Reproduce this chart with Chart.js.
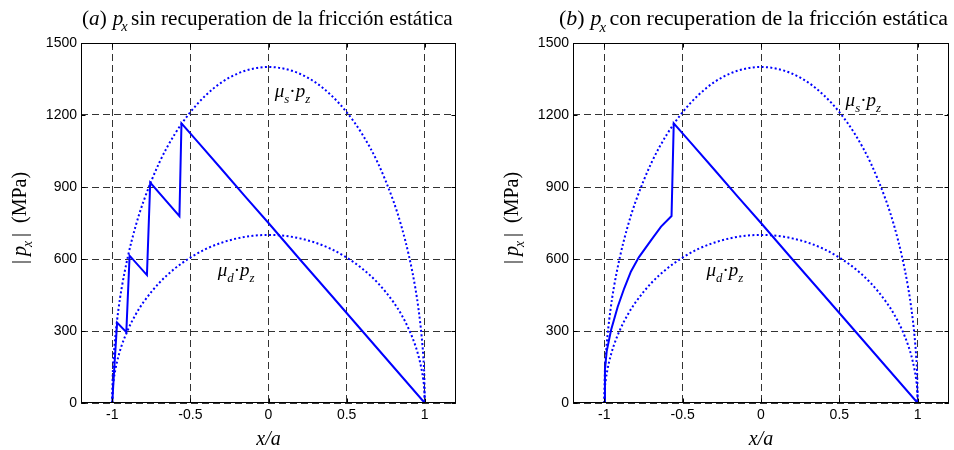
<!DOCTYPE html>
<html>
<head>
<meta charset="utf-8">
<script src="https://cdn.jsdelivr.net/npm/chart.js@4.4.0/dist/chart.umd.min.js"></script>
<style>
  html, body { margin: 0; padding: 0; background: #fff; }
  #wrap { position: relative; width: 954px; height: 450px; }
  .panel { position: absolute; top: 0; width: 477px; height: 450px; }
</style>
</head>
<body>
<div id="wrap">
  <div class="panel" style="left:0"><canvas id="chartA" width="477" height="450"></canvas></div>
  <div class="panel" style="left:477px"><canvas id="chartB" width="477" height="450"></canvas></div>
</div>
<script>
// limit curves (mu_s * p_z and mu_d * p_z)
const CURVE_X = [-1, -0.998, -0.99, -0.98, -0.96, -0.94, -0.9, -0.85, -0.8, -0.7, -0.6, -0.5, -0.4, -0.3, -0.2, -0.1,
  0, 0.1, 0.2, 0.3, 0.4, 0.5, 0.6, 0.7, 0.8, 0.85, 0.9, 0.94, 0.96, 0.98, 0.99, 0.998, 1];
const MU_S_PZ = [0, 88, 198, 279, 392, 478, 610, 738, 840, 1000, 1120, 1212, 1283, 1336, 1372, 1393,
  1400, 1393, 1372, 1336, 1283, 1212, 1120, 1000, 840, 738, 610, 478, 392, 279, 198, 88, 0];
const MU_D_PZ = [0, 44, 99, 139, 196, 239, 305, 369, 420, 500, 560, 606, 642, 668, 686, 697,
  700, 697, 686, 668, 642, 606, 560, 500, 420, 369, 305, 239, 196, 139, 99, 44, 0];

// |p_x| without static friction recovery (a)
const PX_A_X = [-1, -0.991, -0.969, -0.91, -0.889, -0.778, -0.757, -0.57, -0.557, -0.45, -0.3, -0.15, 0, 0.2, 0.4, 0.6, 0.8, 1];
const PX_A = [0, 103, 335, 295, 614, 533, 918, 779, 1165, 1086, 974, 861, 750, 599, 450, 300, 150, 0];

// |p_x| with static friction recovery (b)
const PX_B_X = [-1, -0.996, -0.985, -0.957, -0.915, -0.873, -0.83, -0.78, -0.7, -0.638, -0.571, -0.557, -0.45, -0.3, -0.15, 0, 0.2, 0.4, 0.6, 0.8, 1];
const PX_B = [0, 140, 215, 304, 400, 478, 548, 607, 680, 735, 779, 1165, 1086, 974, 861, 750, 599, 450, 300, 150, 0];

const X_TICKS = [-1, -0.5, 0, 0.5, 1];
const Y_TICKS = [0, 300, 600, 900, 1200, 1500];

const BLUE = "#0000ff";
const SERIF = '"Liberation Serif", "Times New Roman", serif';
const SANS = '"Liberation Sans", Arial, sans-serif';

function toPoints(xs, ys) {
  return xs.map((x, i) => ({ x, y: ys[i] }));
}

// draws a run of text pieces (italic / subscript), returns its width
function drawRich(ctx, parts, x, y, size, measureOnly) {
  let cx = x;
  parts.forEach((p) => {
    const fs = p.sub ? size * 0.68 : size;
    ctx.font = `${p.it ? "italic " : ""}${fs}px ${SERIF}`;
    if (!measureOnly) ctx.fillText(p.t, cx, y + (p.sub ? size * 0.3 : 0));
    cx += ctx.measureText(p.t).width + (p.k || 0);
  });
  return cx - x;
}

const MU_S_LABEL = [{ t: "\u03bc", it: true }, { t: "s", it: true, sub: true }, { t: "\u00b7" }, { t: "p", it: true }, { t: "z", it: true, sub: true }];
const MU_D_LABEL = [{ t: "\u03bc", it: true }, { t: "d", it: true, sub: true }, { t: "\u00b7" }, { t: "p", it: true }, { t: "z", it: true, sub: true }];
const Y_LABEL = [{ t: "|", k: 4 }, { t: "p", it: true, k: -1 }, { t: "x", it: true, sub: true, k: 4 }, { t: "|", k: 10 }, { t: "(MPa)" }];
const X_LABEL = [{ t: "x/a", it: true }];

const panelPlugin = {
  id: "panel",
  afterDatasetsDraw(chart, args, opts) {
    const ctx = chart.ctx;
    const xs = chart.scales.x;
    const ys = chart.scales.y;
    ctx.save();
    ctx.fillStyle = "#000";
    ctx.textBaseline = "alphabetic";
    opts.notes.forEach((n) => {
      drawRich(ctx, n.parts, xs.getPixelForValue(n.x), ys.getPixelForValue(n.y), 19);
    });
    ctx.restore();
  },
  afterDraw(chart, args, opts) {
    const ctx = chart.ctx;
    const a = chart.chartArea;
    const xs = chart.scales.x;
    const ys = chart.scales.y;
    ctx.save();
    ctx.strokeStyle = "#000";
    ctx.lineWidth = 1;
    const l = Math.round(a.left) + 0.5, r = Math.round(a.right) - 0.5;
    const t = Math.round(a.top) + 0.5, b = Math.round(a.bottom) - 0.5;
    ctx.beginPath();
    X_TICKS.forEach((v) => {
      const px = Math.round(xs.getPixelForValue(v)) + 0.5;
      ctx.moveTo(px, b); ctx.lineTo(px, b - 4);
      ctx.moveTo(px, t); ctx.lineTo(px, t + 4);
    });
    Y_TICKS.forEach((v) => {
      const py = Math.round(ys.getPixelForValue(v)) + 0.5;
      ctx.moveTo(l, py); ctx.lineTo(l + 4, py);
      ctx.moveTo(r, py); ctx.lineTo(r - 4, py);
    });
    ctx.stroke();
    ctx.strokeRect(l, t, r - l, b - t);

    ctx.fillStyle = "#000";
    ctx.textBaseline = "alphabetic";
    drawRich(ctx, opts.title, 82, 25, opts.titleSize);

    const cx = (a.left + a.right) / 2;
    const w = drawRich(ctx, X_LABEL, 0, 0, 20, true);
    drawRich(ctx, X_LABEL, cx - w / 2, 445, 20);

    ctx.translate(opts.yLabelX, 218);
    ctx.rotate(-Math.PI / 2);
    const wy = drawRich(ctx, Y_LABEL, 0, 0, 20, true);
    drawRich(ctx, Y_LABEL, -wy / 2, 0, 20);
    ctx.restore();
  },
};

function createPanel(canvasId, xs, ys, cfg) {
  new Chart(document.getElementById(canvasId), {
    type: "line",
    data: {
      datasets: [
        {
          data: toPoints(CURVE_X, MU_S_PZ),
          borderColor: BLUE,
          borderWidth: 2,
          borderDash: [2, 2.4],
          borderCapStyle: "butt",
          pointRadius: 0,
          cubicInterpolationMode: "monotone",
        },
        {
          data: toPoints(CURVE_X, MU_D_PZ),
          borderColor: BLUE,
          borderWidth: 2,
          borderDash: [2, 2.4],
          borderCapStyle: "butt",
          pointRadius: 0,
          cubicInterpolationMode: "monotone",
        },
        {
          data: toPoints(xs, ys),
          borderColor: BLUE,
          borderWidth: 2,
          pointRadius: 0,
          tension: 0,
        },
      ],
    },
    options: {
      responsive: false,
      devicePixelRatio: 1,
      animation: false,
      events: [],
      layout: { padding: { left: 0, right: cfg.padRight, top: 43, bottom: 0 } },
      plugins: {
        legend: { display: false },
        tooltip: { enabled: false },
        panel: { title: cfg.title, titleSize: cfg.titleSize, notes: cfg.notes, yLabelX: cfg.yLabelX },
      },
      scales: {
        x: {
          type: "linear",
          min: -1.2,
          max: 1.2,
          afterBuildTicks: (s) => { s.ticks = X_TICKS.map((v) => ({ value: v })); },
          afterFit: (s) => { s.height = 47; },
          ticks: { color: "#000", font: { family: SANS, size: 14 }, padding: 4, callback: (v) => String(v), maxRotation: 0 },
          grid: { color: "#333", lineWidth: 1, drawTicks: false },
          border: { display: false, dash: [7, 4] },
        },
        y: {
          type: "linear",
          min: 0,
          max: 1500,
          afterBuildTicks: (s) => { s.ticks = Y_TICKS.map((v) => ({ value: v })); },
          afterFit: (s) => { s.width = cfg.axisLeft; },
          ticks: { color: "#000", font: { family: SANS, size: 14 }, padding: 4, callback: (v) => String(v) },
          grid: { color: "#333", lineWidth: 1, drawTicks: false },
          border: { display: false, dash: [7, 4] },
        },
      },
    },
    plugins: [panelPlugin],
  });
}

createPanel("chartA", PX_A_X, PX_A, {
  axisLeft: 81,
  padRight: 21,
  yLabelX: 26,
  titleSize: 21.2,
  title: [{ t: "(" }, { t: "a", it: true }, { t: ")", k: 6 }, { t: "p", it: true, k: -2 }, { t: "x", it: true, sub: true, k: -2 }, { t: " sin recuperation de la fricción estática" }],
  notes: [
    { parts: MU_S_LABEL, x: 0.04, y: 1275 },
    { parts: MU_D_LABEL, x: -0.325, y: 529 },
  ],
});

createPanel("chartB", PX_B_X, PX_B, {
  axisLeft: 96,
  padRight: 5,
  yLabelX: 41,
  titleSize: 21.9,
  title: [{ t: "(" }, { t: "b", it: true }, { t: ")", k: 6 }, { t: "p", it: true, k: -2 }, { t: "x", it: true, sub: true, k: -2 }, { t: " con recuperation de la fricción estática" }],
  notes: [
    { parts: MU_S_LABEL, x: 0.54, y: 1237 },
    { parts: MU_D_LABEL, x: -0.348, y: 529 },
  ],
});
</script>
</body>
</html>
